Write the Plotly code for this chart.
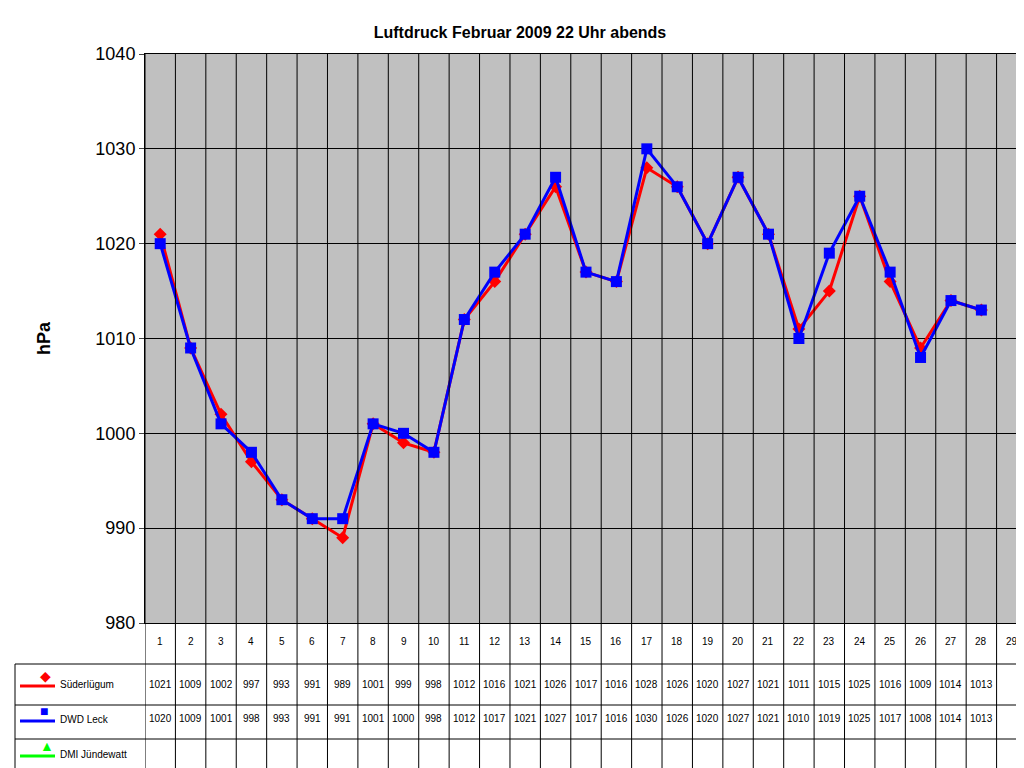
import plotly.graph_objects as go

days = list(range(1, 30))
sued = [1021,1009,1002,997,993,991,989,1001,999,998,1012,1016,1021,1026,1017,1016,1028,1026,1020,1027,1021,1011,1015,1025,1016,1009,1014,1013]
dwd = [1020,1009,1001,998,993,991,991,1001,1000,998,1012,1017,1021,1027,1017,1016,1030,1026,1020,1027,1021,1010,1019,1025,1017,1008,1014,1013]
dmi = []
names = ["Süderlügum", "DWD Leck", "DMI Jündewatt"]
colors = ["#FF0000", "#0000FF", "#00FF00"]
symbols = ["diamond", "square", "triangle-up"]
yticks = [980, 990, 1000, 1010, 1020, 1030, 1040]

L, R, T, B = 137, 1019, 46, 615
W = R - L
H = B - T
def px(x): return (x - L) / W
def py(y): return (B - y) / H

fig = go.Figure()
fig.add_trace(go.Scatter(x=days[:len(sued)], y=sued, mode="lines+markers", name=names[0],
    line=dict(color=colors[0], width=3), marker=dict(symbol="diamond", size=10, color=colors[0])))
fig.add_trace(go.Scatter(x=days[:len(dwd)], y=dwd, mode="lines+markers", name=names[1],
    line=dict(color=colors[1], width=3), marker=dict(symbol="square", size=11, color=colors[1])))

shapes = []
ann = []
# vertical grid lines through plot and table
for i in range(0, 30):
    xv = i + 0.5
    shapes.append(dict(type="line", xref="x", yref="paper", x0=xv, x1=xv, y0=py(762), y1=1,
                       line=dict(color="black", width=1)))
# horizontal table lines
for yy in [656, 697, 731, 762]:
    shapes.append(dict(type="line", xref="paper", yref="paper", x0=px(7), x1=1, y0=py(yy), y1=py(yy),
                       line=dict(color="black", width=1)))
shapes.append(dict(type="line", xref="paper", yref="paper", x0=px(7), x1=px(7), y0=py(656), y1=py(762),
                   line=dict(color="black", width=1)))
# day numbers
for d in days:
    ann.append(dict(x=d, y=py(641), xref="x", yref="paper", text=str(d), showarrow=False,
                    font=dict(size=10, color="black")))
rows = [(sued, 684), (dwd, 718), (dmi, 752)]
for vals, yy in rows:
    for d, v in zip(days, vals):
        ann.append(dict(x=d, y=py(yy), xref="x", yref="paper", text=str(v), showarrow=False,
                        font=dict(size=10, color="black")))
# legend keys
for k, (yy) in enumerate([678, 713, 748]):
    shapes.append(dict(type="line", xref="paper", yref="paper", x0=px(12), x1=px(47), y0=py(yy), y1=py(yy),
                       line=dict(color=colors[k], width=3)))
    ann.append(dict(x=px(50), y=py(yy + 6), xref="paper", yref="paper", text=names[k], showarrow=False,
                    xanchor="left", font=dict(size=10, color="black")))
    ann.append(dict(x=px(30), y=py(yy), xref="paper", yref="paper", text=["◆", "■", "▲"][k], showarrow=False,
                    font=dict(size=14, color=colors[k])))

fig.update_layout(
    width=1024, height=768,
    margin=dict(l=L, r=1024 - R, t=T, b=768 - B),
    paper_bgcolor="white", plot_bgcolor="#C0C0C0",
    font=dict(family="Liberation Sans, Arial", color="black"),
    title=dict(text="<b>Luftdruck Februar 2009 22 Uhr abends</b>", x=0.5, xanchor="center", y=0.975,
               font=dict(size=16)),
    showlegend=False,
    xaxis=dict(range=[0.5, 29.5], showticklabels=False, showgrid=False, zeroline=False,
               showline=True, linecolor="black", mirror=True, ticks=""),
    yaxis=dict(range=[980, 1040], tickvals=yticks, showgrid=True, gridcolor="black", gridwidth=1,
               showline=True, linecolor="black", mirror=True, ticks="outside", ticklen=5,
               tickfont=dict(size=18, family="Liberation Sans, Arial"), zeroline=False,
               title=dict(text="<b>hPa</b>", font=dict(size=18), standoff=40)),
    shapes=shapes, annotations=ann,
)
fig.update_yaxes(tickprefix="<b>", ticksuffix="</b>")
fig.write_html("out.html")
